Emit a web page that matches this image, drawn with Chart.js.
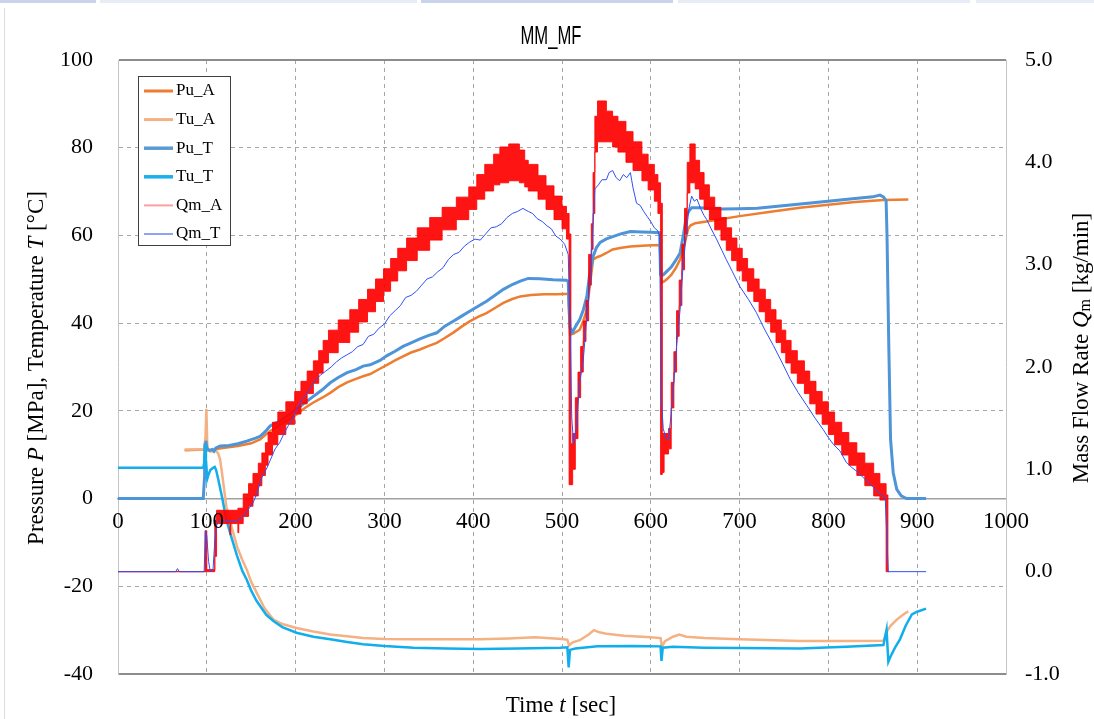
<!DOCTYPE html>
<html><head><meta charset="utf-8">
<script src="https://cdn.jsdelivr.net/npm/chart.js@4.4.1/dist/chart.umd.min.js"></script>
<style>
html,body{margin:0;padding:0;background:#fff;overflow:hidden}
#wrap{position:relative;width:1094px;height:719px}
canvas{position:absolute;left:0;top:0}
.strip{position:absolute;top:0;height:3px}
#edge{position:absolute;left:4px;top:8px;width:1px;height:711px;background:#dcdcdc}
</style></head><body>
<div id="wrap">
<div class="strip" style="left:0;width:96px;background:#c9d3ea"></div>
<div class="strip" style="left:100px;width:317px;background:#e7ecf6"></div>
<div class="strip" style="left:421px;width:252px;background:#c9d3ea"></div>
<div class="strip" style="left:678px;width:292px;background:#e7ecf6"></div>
<div class="strip" style="left:976px;width:118px;background:#e7ecf6"></div>
<div id="edge"></div>
<canvas id="c" width="1094" height="719"></canvas>
</div>
<script>
// ---------- text / ticks ----------
const TITLE = 'MM_MF';
const X_TICKS = ['0','100','200','300','400','500','600','700','800','900','1000'];
const Y_TICKS = ['-40','-20','0','20','40','60','80','100'];
const Y2_TICKS = ['-1.0','0.0','1.0','2.0','3.0','4.0','5.0'];
const SERIES = ['Pu_A','Tu_A','Pu_T','Tu_T','Qm_A','Qm_T'];

// ---------- data: [time s, value] ----------
const PU_A = [[75,11.0],[98,11.2],[100,11.0],[105,10.9],[110,11.3],[120,11.6],[135,12.0],[150,12.6],[160,13.5],[170,15.2],[182,16.8],[192,18.0],[201,19.2],[210,20.6],[220,21.9],[230,23.0],[239,24.1],[248,25.4],[258,26.5],[268,27.3],[276,27.9],[284,28.4],[295,29.6],[303,30.5],[312,31.5],[321,32.4],[330,33.3],[340,34.0],[350,34.8],[359,35.5],[368,36.6],[378,37.9],[387,39.2],[396,40.4],[406,41.5],[415,42.3],[425,43.5],[434,44.6],[444,45.5],[453,46.1],[465,46.4],[480,46.6],[495,46.6],[507,46.7],[509,37.4],[513,37.6],[520,38.5],[524,40.5],[528,43.1],[531,48.0],[535,54.5],[539,55.0],[543,55.3],[550,56.0],[557,56.8],[567,57.2],[577,57.5],[595,57.7],[610,57.8],[612,49.2],[615,49.5],[618,50.0],[623,51.0],[628,52.5],[633,54.5],[638,58.0],[642,61.5],[645,62.3],[650,62.8],[670,63.4],[700,64.4],[735,65.4],[768,66.3],[800,67.0],[830,67.6],[862,68.1],[890,68.2]];

const TU_A = [[75,11.2],[97,11.2],[98.5,14],[99.5,20.5],[100.5,12.5],[101.5,11.0],[104,10.7],[108,10.9],[111,10.8],[113,10.2],[115,8.9],[118,4.5],[122,-1.8],[128,-6.5],[134,-10.9],[140,-14],[145,-16.2],[150,-19],[156,-21.4],[165,-25],[175,-27.6],[185,-28.6],[201,-29.5],[220,-30.3],[239,-31.0],[258,-31.4],[276,-31.8],[300,-32.0],[333,-32.1],[370,-32.1],[408,-32.1],[440,-31.9],[470,-31.6],[483,-31.8],[500,-32.0],[506,-32.2],[508,-33.5],[512,-32.8],[520,-32.3],[530,-31.0],[536,-30.0],[542,-30.5],[550,-30.8],[570,-31.3],[600,-31.6],[611,-31.8],[612.5,-33.8],[616,-32.5],[625,-31.5],[632,-31.0],[640,-31.5],[660,-31.8],[700,-32.1],[768,-32.5],[820,-32.5],[862,-32.4],[866,-30.3],[870,-29],[877,-27.6],[884,-26.5],[890,-25.7]];

const PU_T = [[0,0],[96,0],[97.5,5],[98,12.3],[99,13.2],[100,11.5],[103,11.0],[106,11.2],[108,10.8],[110,11.5],[115,12.0],[125,12.1],[135,12.5],[145,13.1],[155,13.8],[160,14.2],[166,15.3],[171,16.5],[177,17.2],[182,17.6],[190,18.8],[201,20.3],[210,21.8],[220,23.3],[230,24.8],[239,26.4],[248,27.6],[258,28.7],[268,29.4],[276,30.2],[284,30.5],[295,31.5],[303,32.6],[312,33.6],[321,34.7],[330,35.5],[340,36.4],[350,37.2],[359,37.8],[368,39.3],[378,40.5],[387,41.6],[396,42.7],[406,43.9],[415,45.0],[425,46.4],[434,47.7],[444,48.8],[453,49.6],[462,50.2],[475,50.1],[490,49.9],[505,49.8],[507,49.5],[509,39.0],[512,38.0],[516,39.5],[520,40.8],[524,43],[528,46.1],[531,51],[535,55.2],[539,57.3],[543,58.4],[550,59.2],[558,59.8],[567,60.4],[577,60.9],[590,60.8],[600,60.7],[610,60.6],[611,51.1],[614,51.0],[618,51.8],[623,52.8],[628,54.3],[633,56.0],[637,60.5],[640,64.4],[643,65.6],[646,66.3],[655,66.3],[680,66.0],[700,66.1],[720,66.2],[740,66.6],[760,67.0],[780,67.4],[805,67.9],[830,68.4],[850,68.8],[858,69.2],[862,68.8],[865,67.9],[866,60],[868,35],[870,13.5],[873,5.9],[877,2.1],[882,0.6],[888,0],[910,0]];

const TU_T = [[0,7.0],[96,7.0],[97,8],[98,12.3],[99,9],[100.5,4.5],[102,5.5],[104,6.5],[107,7.0],[109,7.2],[110.5,6.5],[113,4.3],[117,0.5],[122,-4.8],[128,-9],[134,-13],[140,-16.5],[145,-18.5],[150,-21],[156,-23.3],[160,-24.5],[167,-26.5],[175,-27.9],[185,-29.3],[201,-30.6],[220,-31.5],[239,-32.1],[258,-32.7],[276,-33.2],[300,-33.6],[333,-34.0],[370,-34.2],[408,-34.3],[450,-34.2],[498,-34.0],[506,-33.9],[507.5,-38.5],[509,-34.5],[515,-34.2],[540,-33.7],[580,-33.6],[611,-33.7],[612,-37.0],[613.5,-34.0],[625,-33.8],[660,-34.0],[700,-34.1],[768,-34.2],[820,-33.8],[862,-33.4],[865.5,-29.9],[867.5,-37.2],[870,-36],[875,-34],[880.6,-32.1],[887,-29],[894,-26.4],[900,-25.8],[910,-25.1]];

// Qm_A: band of the quantised, flickering signal (step start time, low, high)
const QMA_T  = [0,98,100,109,111,126,127,135,136,141,147,152,158,162,166,169,174,180,189,199,206,213,220,226,231,237,248,261,271,281,290,299,307,315,325,337,351,365,381,395,404,413,423,430,440,452,458,462,473,482,491,500,505,508,510,512,515,518,521,524,527,530,533,535,537,540,550,557,563,572,580,590,597,604,608,611,613,615,620,623,626,629,632,635,638,641,644,650,655,660,666,672,679,685,691,697,703,709,716,722,729,735,741,747,752,758,765,773,779,786,793,800,807,815,823,832,841,851,858,865,867,868];
const QMA_LO = [0,0,0,0.15,0.47,0.36,0.47,0.38,0.47,0.54,0.64,0.74,0.84,0.94,1.04,1.14,1.24,1.34,1.44,1.54,1.64,1.74,1.84,1.94,2.04,2.14,2.24,2.34,2.44,2.54,2.64,2.74,2.84,2.94,3.04,3.14,3.24,3.34,3.44,3.54,3.64,3.72,3.78,3.80,3.82,3.80,3.76,3.72,3.64,3.54,3.44,3.35,3.25,0.85,0.85,1.0,1.3,1.7,1.95,2.25,2.45,2.8,3.15,3.5,4.1,4.2,4.2,4.15,4.1,4.0,3.92,3.82,3.73,3.62,3.5,0.95,0.97,1.15,1.2,1.6,1.95,2.3,2.6,2.95,3.3,3.7,3.8,3.74,3.64,3.54,3.44,3.34,3.24,3.14,3.04,2.94,2.84,2.74,2.64,2.54,2.44,2.34,2.24,2.14,2.04,1.94,1.84,1.74,1.64,1.54,1.44,1.34,1.24,1.14,1.04,0.94,0.84,0.74,0.70,0.0,0,0];
const QMA_HI = [0,0.40,0.02,0.50,0.60,0.60,0.60,0.62,0.62,0.76,0.86,0.96,1.06,1.16,1.26,1.36,1.46,1.56,1.66,1.76,1.86,1.96,2.06,2.16,2.26,2.36,2.46,2.56,2.66,2.76,2.86,2.96,3.06,3.16,3.26,3.36,3.46,3.56,3.66,3.76,3.88,3.98,4.08,4.15,4.18,4.12,4.02,3.98,3.87,3.77,3.67,3.57,3.50,3.3,1.25,1.35,1.7,1.95,2.2,2.45,2.65,3.1,3.4,3.9,4.45,4.6,4.5,4.45,4.4,4.3,4.2,4.08,3.98,3.88,3.8,3.6,1.35,1.35,1.4,1.85,2.15,2.55,2.85,3.2,3.55,4.0,4.18,4.02,3.90,3.78,3.66,3.56,3.46,3.36,3.26,3.16,3.06,2.96,2.86,2.76,2.66,2.56,2.46,2.36,2.26,2.16,2.06,1.96,1.86,1.76,1.66,1.56,1.46,1.36,1.26,1.16,1.06,0.96,0.86,0.75,0,0];

const QM_T = [[0,0],[65,0],[67,0.03],[69,0],[97,0],[98.5,0.4],[100,0.35],[102,0.1],[104,0],[107,0.02],[109,0.3],[111,0.45],[113,0.49],[120,0.5],[128,0.49],[135,0.5],[141,0.54],[146,0.6],[152,0.67],[157,0.78],[162,0.92],[167,1.0],[172,1.1],[177,1.2],[182,1.26],[187,1.35],[192,1.43],[197,1.5],[202,1.6],[207,1.68],[212,1.73],[217,1.8],[222,1.87],[228,1.92],[234,1.96],[240,2.0],[246,2.05],[252,2.09],[258,2.12],[264,2.15],[270,2.2],[276,2.22],[282,2.3],[288,2.32],[294,2.38],[300,2.42],[306,2.5],[312,2.55],[318,2.6],[324,2.68],[330,2.7],[336,2.74],[342,2.8],[348,2.86],[354,2.88],[360,2.93],[366,2.97],[372,3.05],[378,3.1],[384,3.12],[390,3.18],[396,3.22],[402,3.25],[408,3.24],[414,3.3],[420,3.36],[426,3.37],[432,3.4],[438,3.46],[444,3.5],[450,3.52],[456,3.55],[462,3.52],[467,3.5],[472,3.45],[478,3.42],[483,3.38],[488,3.35],[493,3.28],[498,3.25],[503,3.2],[507,3.1],[509,2.5],[511,1.5],[513,1.25],[516,1.4],[520,1.85],[524,2.07],[528,2.5],[532,2.86],[535,3.4],[537,3.74],[541,3.78],[545,3.83],[550,3.83],[553,3.9],[557,3.92],[561,3.85],[565,3.82],[569,3.88],[573,3.85],[577,3.9],[580,3.75],[584,3.6],[588,3.58],[592,3.52],[596,3.47],[600,3.42],[604,3.36],[608,3.33],[610,3.28],[611.5,1.75],[614,1.4],[617,1.3],[620,1.29],[623,1.55],[626,1.85],[629,2.2],[633,2.56],[636,2.95],[640,3.31],[643,3.55],[646,3.67],[649,3.62],[652,3.64],[656,3.55],[660,3.48],[663,3.44],[668,3.35],[674,3.25],[680,3.14],[685,3.05],[692,2.93],[700,2.79],[710,2.66],[719,2.53],[728,2.37],[738,2.21],[748,2.04],[757,1.88],[766,1.75],[776,1.62],[785,1.5],[794,1.39],[800,1.31],[806,1.24],[813,1.18],[820,1.07],[826,1.02],[832,0.98],[838,0.93],[845,0.87],[851,0.82],[858,0.76],[864,0.72],[866,0.3],[867.5,0],[910,0]];

// ---------- styling ----------
const SERIF = '"Liberation Serif","Times New Roman",serif';
const SANS = '"Liberation Sans",Arial,sans-serif';
const COLORS = {Pu_A:'#ED7D31', Tu_A:'#F4B183', Pu_T:'#4E94D8', Tu_T:'#12AEEB', Qm_A:'#FF0000', Qm_T:'#3050F5'};
const LEG_COLORS = {Pu_A:'#ED7D31', Tu_A:'#F4B183', Pu_T:'#5B9BD5', Tu_T:'#1AB0EE', Qm_A:'#FF9E9E', Qm_T:'#8FA2F5'};
const LEG_WIDTH = {Pu_A:3, Tu_A:3, Pu_T:3.5, Tu_T:3.5, Qm_A:2, Qm_T:2};

const pts = a => a.map(p => ({x:p[0], y:p[1]}));
const zip = (t, v) => t.map((tt, i) => ({x:tt, y:v[i]}));

function drawRich(ctx, parts, cx, cy, rot){
  ctx.save(); ctx.translate(cx, cy); ctx.rotate(rot);
  let w = 0;
  parts.forEach(p => { ctx.font = p.f; p.w = ctx.measureText(p.t).width; w += p.w; });
  let x = -w/2; ctx.textBaseline = 'middle'; ctx.textAlign = 'left'; ctx.fillStyle = '#000';
  parts.forEach(p => { ctx.font = p.f; ctx.fillText(p.t, x, p.dy || 0); x += p.w; });
  ctx.restore();
}

const textPlugin = {
  id: 'texts',
  afterDraw(chart){
    const ctx = chart.ctx, s = chart.scales;
    ctx.save();
    ctx.fillStyle = '#000';
    // title
    ctx.save(); ctx.translate(551, 37); ctx.scale(0.64, 1);
    ctx.font = '26px ' + SANS; ctx.textAlign = 'center'; ctx.textBaseline = 'middle';
    ctx.fillText(TITLE, 0, 0); ctx.restore();
    // tick labels
    ctx.font = '22px ' + SERIF; ctx.textBaseline = 'middle';
    ctx.textAlign = 'right';
    s.y.ticks.forEach((t, i) => ctx.fillText(Y_TICKS[i], 93, s.y.getPixelForValue(t.value)));
    ctx.textAlign = 'left';
    s.y2.ticks.forEach((t, i) => ctx.fillText(Y2_TICKS[i], 1025, s.y2.getPixelForValue(t.value)));
    ctx.font = '23px ' + SERIF;
    ctx.textAlign = 'center';
    const y0 = s.y.getPixelForValue(0) + 23;
    s.x.ticks.forEach((t, i) => ctx.fillText(X_TICKS[i], s.x.getPixelForValue(t.value), y0));
    // axis titles
    const R = '23px ' + SERIF, I = 'italic 23px ' + SERIF;
    drawRich(ctx, [{t:'Time ', f:R}, {t:'t', f:I}, {t:' [sec]', f:R}], 561, 706, 0);
    drawRich(ctx, [{t:'Pressure ', f:R}, {t:'P', f:I}, {t:' [MPa], Temperature ', f:R}, {t:'T', f:I}, {t:' [°C]', f:R}], 37, 368, -Math.PI/2);
    drawRich(ctx, [{t:'Mass Flow Rate ', f:R}, {t:'Q', f:I}, {t:'m', f:'16px ' + SERIF, dy:4}, {t:' [kg/min]', f:R}], 1082, 348, -Math.PI/2);
    // legend
    const lx = 138, ly = 76, lw = 92, lh = 169;
    ctx.fillStyle = '#fff'; ctx.fillRect(lx, ly, lw, lh);
    ctx.strokeStyle = '#404040'; ctx.lineWidth = 1; ctx.strokeRect(lx + 0.5, ly + 0.5, lw, lh);
    ctx.font = '17px ' + SERIF; ctx.textAlign = 'left'; ctx.textBaseline = 'middle';
    SERIES.forEach((name, i) => {
      const yy = 91 + i * 28.6;
      ctx.strokeStyle = LEG_COLORS[name]; ctx.lineWidth = LEG_WIDTH[name];
      ctx.beginPath(); ctx.moveTo(144, yy); ctx.lineTo(173, yy); ctx.stroke();
      ctx.fillStyle = '#000'; ctx.fillText(name, 176, yy);
    });
    ctx.restore();
  }
};

const line = (label, data, color, width, axis, order) => ({
  label, data, borderColor: color, backgroundColor: color, borderWidth: width,
  pointRadius: 0, tension: 0, yAxisID: axis, order, fill: false
});

const dsQmLo = line('Qm_A', zip(QMA_T, QMA_LO), 'rgba(255,0,0,0.85)', 1, 'y2', 2);
dsQmLo.stepped = true;
const dsQmHi = line('Qm_A_hi', zip(QMA_T, QMA_HI), 'rgba(255,0,0,0.85)', 1, 'y2', 1);
dsQmHi.stepped = true;
dsQmHi.fill = '-1';
dsQmHi.backgroundColor = 'rgba(255,0,0,0.92)';

new Chart(document.getElementById('c'), {
  type: 'line',
  data: {
    datasets: [
      line('Pu_A', pts(PU_A), COLORS.Pu_A, 2.5, 'y', 6),
      line('Tu_A', pts(TU_A), COLORS.Tu_A, 2.5, 'y', 5),
      line('Pu_T', pts(PU_T), COLORS.Pu_T, 3, 'y', 4),
      line('Tu_T', pts(TU_T), COLORS.Tu_T, 2.5, 'y', 3),
      dsQmLo,
      dsQmHi,
      line('Qm_T', pts(QM_T), COLORS.Qm_T, 1, 'y2', 0)
    ]
  },
  options: {
    responsive: false, animation: false, events: [],
    layout: {padding: {left: 0, right: 0, top: 60, bottom: 45}},
    plugins: {legend: {display: false}, title: {display: false}, tooltip: {enabled: false}},
    scales: {
      x: {
        type: 'linear', min: 0, max: 1000, position: {y: 0},
        ticks: {display: false, stepSize: 100},
        grid: {
          drawTicks: false, lineWidth: 1,
          color: c => (c.tick && (c.tick.value === 0 || c.tick.value === 1000)) ? 'rgba(0,0,0,0)' : '#a6a6a6'
        },
        border: {display: true, color: '#a0a0a0', width: 1.5, dash: [4, 4]}
      },
      y: {
        type: 'linear', position: 'left', min: -40, max: 100,
        ticks: {display: false, stepSize: 20},
        afterFit: sc => { sc.width = 118; },
        grid: {
          drawTicks: false,
          color: c => {
            const v = c.tick ? c.tick.value : null;
            if (v === 0) return 'rgba(0,0,0,0)';
            if (v === 100 || v === -40) return '#8c8c8c';
            return '#a6a6a6';
          },
          lineWidth: c => (c.tick && (c.tick.value === 100 || c.tick.value === -40)) ? 2 : 1
        },
        border: {display: true, color: '#c4c4c4', width: 1,
          dash: c => (c.tick && (c.tick.value === 100 || c.tick.value === -40)) ? [] : [4, 4]}
      },
      y2: {
        type: 'linear', position: 'right', min: -1, max: 5,
        ticks: {display: false, stepSize: 1},
        afterFit: sc => { sc.width = 88; },
        grid: {drawOnChartArea: false, drawTicks: false},
        border: {display: true, color: '#c4c4c4', width: 1}
      }
    }
  },
  plugins: [textPlugin]
});
</script>
</body></html>
